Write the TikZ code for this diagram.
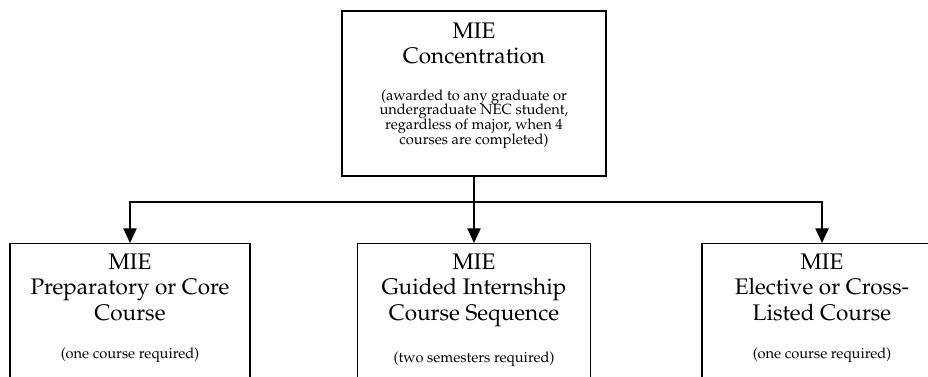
\documentclass[tikz,border=0pt]{standalone}
\usepackage[T1]{fontenc}
\usepackage{mathpazo}
\usetikzlibrary{arrows.meta}
\newcommand{\titlefont}{\fontsize{16.9}{19}\selectfont}
\newcommand{\notefont}{\fontsize{11}{11.1}\selectfont}
\tikzset{%
  >={Triangle[width=10pt,length=11pt]},
  % Specifications for style of nodes:
            base/.style = {rectangle, draw=black, line width=1.1pt,
                           anchor=north, inner xsep=4pt, inner ysep=7.5pt,
                           align=flush center, font=\titlefont},
        toplevel/.style = {base, text width=190pt, inner ysep=9pt,
                           line width=1.4pt},
       coursebox/.style = {base, text width=172pt},
}
\begin{document}
\begin{tikzpicture}[x=0.75pt, y=0.75pt, line width=1pt]
  \useasboundingbox (0,0) rectangle (928,377);
  \clip (0,0) rectangle (928,377);
  % Specification of nodes (position, etc.)
  \node (conc) [toplevel] at (474,367)
    {MIE\\Concentration\par\vspace{16pt}
     {\notefont (awarded to any graduate or\\undergraduate NEC student,\\
      regardless of major, when 4\\courses are completed)\par}
     \vspace{11.5pt}\hrule height 0pt};
  \coordinate (split) at (474,175);
  \node (prep)     [coursebox] at (130,134)
    {MIE\\Preparatory or Core\\Course\par\vspace{18pt}
     {\notefont (one course required)\par}\vspace{30pt}\hrule height 0pt};
  \node (guided)   [coursebox, text width=167pt] at (474,134)
    {MIE\\Guided Internship\\Course Sequence\par\vspace{18pt}
     {\notefont (two semesters required)\par}\vspace{30pt}\hrule height 0pt};
  \node (elective) [coursebox] at (822,134)
    {MIE\\Elective or Cross-\\Listed Course\par\vspace{18pt}
     {\notefont (one course required)\par}\vspace{30pt}\hrule height 0pt};

  % Specification of lines between nodes specified above
  \draw         (conc) -- (split);
  \draw[->]     (split) -| (prep);
  \draw[->]     (split) -- (guided);
  \draw[->]     (split) -| (elective);
\end{tikzpicture}
\end{document}
